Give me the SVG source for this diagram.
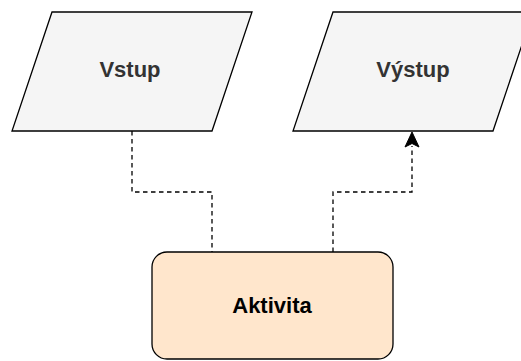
<svg xmlns="http://www.w3.org/2000/svg" width="521" height="361" viewBox="0 0 521 361">
  <defs>
    <style>
      .io { fill: #f5f5f5; stroke: #000; stroke-width: 1.3; }
      .act { fill: #ffe6cc; stroke: #000; stroke-width: 1.3; }
      .lbl { font-family: "Liberation Sans", Arial, Helvetica, sans-serif; font-weight: bold; font-size: 22px; text-anchor: middle; }
      .io-t { fill: #333333; }
      .act-t { fill: #000; }
      .conn { fill: none; stroke: #000; stroke-width: 1.3; stroke-dasharray: 4.5 3.5; }
      .head { fill: #000; stroke: #000; stroke-width: 1; }
    </style>
  </defs>
  <g id="connectors">
    <path class="conn" d="M132 131 V192 H212 V252"/>
    <path class="conn" d="M333 252 V192 H412 V146"/>
    <path class="head" d="M412 132 L419 147 L412 143.5 L405 147 Z"/>
  </g>
  <g id="vstup">
    <polygon class="io" points="52,12 252,12 212,131 12,131"/>
    <text class="lbl io-t" x="130" y="77">Vstup</text>
  </g>
  <g id="vystup">
    <polygon class="io" points="333,12 533,12 493,131 293,131"/>
    <text class="lbl io-t" x="413" y="77">Výstup</text>
  </g>
  <g id="aktivita">
    <rect class="act" x="152" y="252" width="241" height="107" rx="15" ry="15"/>
    <text class="lbl act-t" x="272" y="313">Aktivita</text>
  </g>
</svg>
